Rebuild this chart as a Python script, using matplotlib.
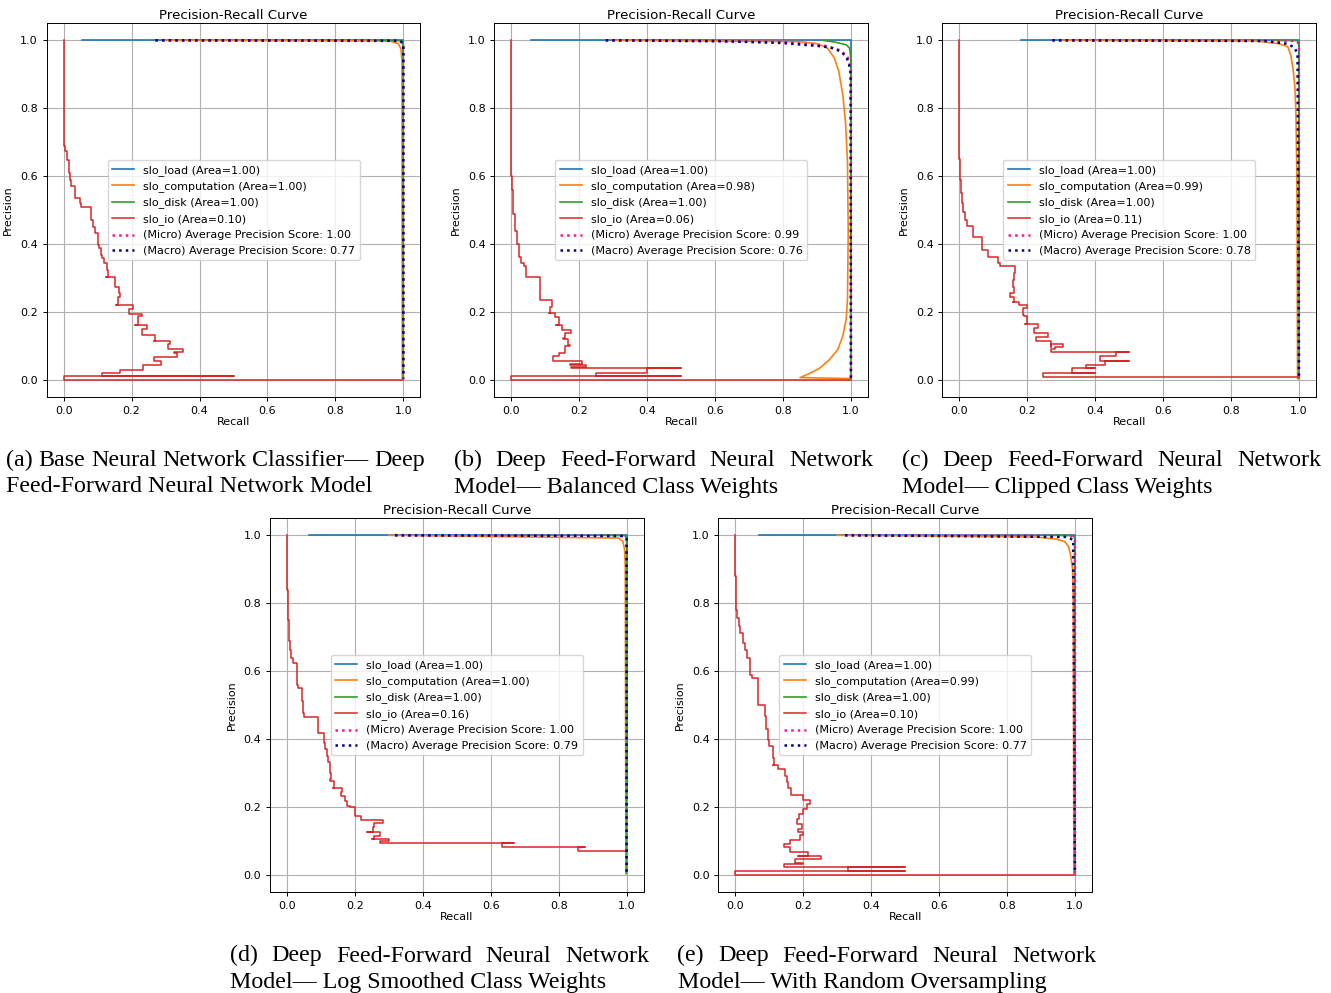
import matplotlib
matplotlib.use('Agg')
import matplotlib.pyplot as plt

W, H = 1331, 993

# slo_io curves (recall, precision), traced as steps
a_io_recall = [0.0, 0.004, 0.01, 0.016, 0.02, 0.022, 0.032, 0.047, 0.05, 0.081, 0.086, 0.091, 0.1, 0.104,
               0.111, 0.113, 0.12, 0.128, 0.13, 0.126, 0.152, 0.152, 0.162, 0.167, 0.159, 0.154, 0.204, 0.192,
               0.194, 0.23, 0.218, 0.211, 0.245, 0.23, 0.237, 0.27, 0.265, 0.312, 0.306, 0.314, 0.35, 0.324,
               0.335, 0.265, 0.265, 0.288, 0.265, 0.233, 0.202, 0.167, 0.113, 0.113, 0.5, 0.0, 0.0, 1.0]
a_io_precision = [1.0, 0.69, 0.675, 0.648, 0.61, 0.59, 0.57, 0.535, 0.52, 0.51, 0.47, 0.452, 0.432, 0.398,
                  0.39, 0.368, 0.36, 0.344, 0.325, 0.304, 0.303, 0.28, 0.275, 0.257, 0.245, 0.221, 0.221, 0.21,
                  0.196, 0.196, 0.188, 0.162, 0.162, 0.152, 0.133, 0.133, 0.116, 0.116, 0.108, 0.093, 0.093,
                  0.083, 0.08, 0.069, 0.057, 0.057, 0.044, 0.044, 0.031, 0.031, 0.022, 0.012, 0.012, 0.012,
                  0.0, 0.0]

b_io_recall = [0.0, 0.002, 0.006, 0.011, 0.016, 0.023, 0.03, 0.037, 0.043, 0.05, 0.084, 0.089, 0.119, 0.114,
               0.112, 0.129, 0.129, 0.14, 0.133, 0.148, 0.162, 0.175, 0.158, 0.153, 0.168, 0.174, 0.158, 0.14,
               0.123, 0.123, 0.174, 0.209, 0.174, 0.221, 0.177, 0.177, 0.5, 0.4, 0.4, 0.25, 0.25, 0.5, 0.0,
               0.0, 1.0]
b_io_precision = [1.0, 0.6, 0.56, 0.49, 0.44, 0.40, 0.364, 0.345, 0.335, 0.305, 0.305, 0.236, 0.236, 0.215,
                  0.197, 0.197, 0.187, 0.187, 0.163, 0.163, 0.148, 0.148, 0.138, 0.124, 0.12, 0.104, 0.1, 0.08,
                  0.07, 0.06, 0.058, 0.058, 0.048, 0.046, 0.04, 0.035, 0.035, 0.035, 0.022, 0.022, 0.012,
                  0.012, 0.012, 0.0, 0.0]

c_io_recall = [0.0, 0.002, 0.004, 0.007, 0.012, 0.017, 0.023, 0.039, 0.039, 0.066, 0.075, 0.085, 0.085,
               0.115, 0.12, 0.124, 0.164, 0.16, 0.157, 0.161, 0.15, 0.16, 0.159, 0.176, 0.198, 0.188, 0.19,
               0.2, 0.194, 0.232, 0.219, 0.222, 0.26, 0.227, 0.227, 0.271, 0.271, 0.306, 0.283, 0.27, 0.27,
               0.5, 0.462, 0.462, 0.415, 0.415, 0.5, 0.428, 0.428, 0.374, 0.374, 0.4, 0.333, 0.333, 0.4,
               0.247, 0.247, 1.0]
c_io_precision = [1.0, 0.65, 0.59, 0.55, 0.52, 0.496, 0.47, 0.454, 0.421, 0.421, 0.383, 0.383, 0.362,
                  0.362, 0.345, 0.337, 0.337, 0.315, 0.295, 0.275, 0.256, 0.245, 0.231, 0.231, 0.222, 0.212,
                  0.192, 0.188, 0.166, 0.166, 0.153, 0.138, 0.14, 0.128, 0.117, 0.117, 0.099, 0.106, 0.099,
                  0.091, 0.082, 0.082, 0.082, 0.07, 0.07, 0.058, 0.058, 0.058, 0.045, 0.045, 0.035, 0.035,
                  0.035, 0.0225, 0.0225, 0.0225, 0.011, 0.011]

d_io_recall = [0.0, 0.002, 0.005, 0.008, 0.012, 0.019, 0.029, 0.031, 0.044, 0.047, 0.051, 0.061, 0.09,
               0.094, 0.11, 0.113, 0.117, 0.122, 0.127, 0.129, 0.126, 0.139, 0.135, 0.162, 0.16, 0.172,
               0.178, 0.185, 0.201, 0.2, 0.218, 0.218, 0.284, 0.257, 0.252, 0.237, 0.275, 0.257, 0.25, 0.3,
               0.275, 0.275, 0.669, 0.634, 0.634, 0.876, 0.856, 0.856, 1.0]
d_io_precision = [1.0, 0.84, 0.75, 0.69, 0.664, 0.64, 0.625, 0.559, 0.55, 0.513, 0.478, 0.467, 0.467,
                  0.42, 0.42, 0.39, 0.371, 0.35, 0.332, 0.3, 0.283, 0.278, 0.258, 0.258, 0.245, 0.234,
                  0.22, 0.204, 0.2, 0.18, 0.175, 0.163, 0.163, 0.155, 0.141, 0.128, 0.128, 0.117, 0.107,
                  0.107, 0.102, 0.094, 0.094, 0.094, 0.082, 0.082, 0.082, 0.071, 0.071]

e_io_recall = [0.0, 0.003, 0.005, 0.01, 0.015, 0.022, 0.03, 0.034, 0.042, 0.044, 0.049, 0.066, 0.068,
               0.088, 0.091, 0.095, 0.098, 0.11, 0.113, 0.11, 0.127, 0.147, 0.152, 0.154, 0.163, 0.171, 0.2,
               0.22, 0.21, 0.2, 0.189, 0.181, 0.196, 0.186, 0.2, 0.19, 0.174, 0.16, 0.142, 0.142, 0.162,
               0.186, 0.215, 0.186, 0.251, 0.21, 0.176, 0.176, 0.2, 0.142, 0.142, 0.5, 0.333, 0.333, 0.5,
               0.0, 0.0, 1.0]
e_io_precision = [1.0, 0.88, 0.78, 0.757, 0.733, 0.713, 0.684, 0.664, 0.64, 0.6, 0.59, 0.581, 0.5, 0.5,
                  0.469, 0.43, 0.398, 0.38, 0.346, 0.325, 0.325, 0.312, 0.293, 0.273, 0.258, 0.236, 0.236,
                  0.221, 0.21, 0.195, 0.18, 0.165, 0.151, 0.136, 0.128, 0.118, 0.105, 0.105, 0.092, 0.082,
                  0.082, 0.069, 0.069, 0.058, 0.058, 0.048, 0.048, 0.038, 0.036, 0.033, 0.024, 0.024, 0.024,
                  0.014, 0.014, 0.014, 0.0, 0.0]

# slo_computation curves
a_comp_recall = [0.3, 0.96, 0.985, 0.993, 0.996, 0.997]
a_comp_precision = [1.0, 0.998, 0.99, 0.975, 0.94, 0.005]
b_comp_recall = [0.3, 0.85, 0.90, 0.93, 0.95, 0.964, 0.976, 0.984, 0.99, 0.992, 0.99, 0.986, 0.976, 0.961,
                 0.936, 0.907, 0.878, 0.850, 1.0]
b_comp_precision = [1.0, 0.996, 0.99, 0.978, 0.95, 0.91, 0.84, 0.76, 0.64, 0.44, 0.24, 0.18, 0.13, 0.09,
                    0.06, 0.035, 0.02, 0.008, 0.005]
c_comp_recall = [0.3, 0.874, 0.942, 0.967, 0.976, 0.983, 0.988, 0.991, 0.994, 0.996]
c_comp_precision = [1.0, 0.998, 0.99, 0.981, 0.957, 0.913, 0.864, 0.795, 0.6, 0.005]
d_comp_recall = [0.3, 0.977, 0.989, 0.994, 0.996, 0.998]
d_comp_precision = [1.0, 0.992, 0.982, 0.958, 0.909, 0.005]
e_comp_recall = [0.3, 0.886, 0.944, 0.969, 0.981, 0.988, 0.993, 0.995, 0.997]
e_comp_precision = [1.0, 0.995, 0.989, 0.982, 0.968, 0.938, 0.899, 0.81, 0.005]

# slo_disk curves
disk_recall = [0.92, 0.995, 1.0, 1.0]
disk_precision = [1.0, 0.999, 0.99, 0.005]
b_disk_recall = [0.917, 0.956, 0.986, 0.996, 0.999, 1.0, 1.0]
b_disk_precision = [1.0, 0.994, 0.987, 0.977, 0.952, 0.9, 0.005]

# slo_load starts where recall first reaches this value
load_start = [0.055, 0.058, 0.181, 0.064, 0.071]

# macro / micro averaged curves
a_macro_recall = [0.27, 0.99, 1.0, 1.0]
a_macro_precision = [1.0, 0.999, 0.99, 0.005]
b_macro_recall = [0.278, 0.6, 0.8, 0.917, 0.946, 0.971, 0.986, 0.994, 0.999, 1.0]
b_macro_precision = [1.0, 0.998, 0.992, 0.982, 0.977, 0.967, 0.952, 0.933, 0.903, 0.005]
c_macro_recall = [0.274, 0.9, 0.962, 0.986, 0.996, 1.0]
c_macro_precision = [1.0, 0.998, 0.99, 0.98, 0.96, 0.005]
d_macro_recall = [0.318, 0.99, 1.0, 1.0]
d_macro_precision = [1.0, 0.998, 0.99, 0.005]
e_macro_recall = [0.323, 0.974, 0.995, 1.0]
e_macro_precision = [1.0, 0.995, 0.987, 0.005]

micro_recall = [0.99, 1.0, 1.0]
micro_precision = [0.998, 0.99, 0.005]
b_micro_recall = [0.278, 0.8, 0.92, 0.97, 0.99, 1.0, 1.0]
b_micro_precision = [1.0, 0.995, 0.985, 0.97, 0.95, 0.92, 0.005]

# areas shown in the legends
area_load = [1.00, 1.00, 1.00, 1.00, 1.00]
area_comp = [1.00, 0.98, 0.99, 1.00, 0.99]
area_disk = [1.00, 1.00, 1.00, 1.00, 1.00]
area_io = [0.10, 0.06, 0.11, 0.16, 0.10]
micro_score = [1.00, 0.99, 1.00, 1.00, 1.00]
macro_score = [0.77, 0.76, 0.78, 0.79, 0.77]

captions = [
    ("(a) Base Neural Network Classifier\u2014 Deep", "Feed-Forward Neural Network Model"),
    ("(b) Deep Feed-Forward Neural Network", "Model\u2014 Balanced Class Weights"),
    ("(c) Deep Feed-Forward Neural Network", "Model\u2014 Clipped Class Weights"),
    ("(d) Deep Feed-Forward Neural Network", "Model\u2014 Log Smoothed Class Weights"),
    ("(e) Deep Feed-Forward Neural Network", "Model\u2014 With Random Oversampling"),
]

io_curves = [(a_io_recall, a_io_precision), (b_io_recall, b_io_precision), (c_io_recall, c_io_precision),
             (d_io_recall, d_io_precision), (e_io_recall, e_io_precision)]
comp_curves = [(a_comp_recall, a_comp_precision), (b_comp_recall, b_comp_precision),
               (c_comp_recall, c_comp_precision), (d_comp_recall, d_comp_precision),
               (e_comp_recall, e_comp_precision)]
disk_curves = [(disk_recall, disk_precision), (b_disk_recall, b_disk_precision), (disk_recall, disk_precision),
               (disk_recall, disk_precision), (disk_recall, disk_precision)]
macro_curves = [(a_macro_recall, a_macro_precision), (b_macro_recall, b_macro_precision),
                (c_macro_recall, c_macro_precision), (d_macro_recall, d_macro_precision),
                (e_macro_recall, e_macro_precision)]

# axes boxes in pixels: left, top
boxes = [(46.7, 23.3), (494.3, 23.3), (942.3, 23.3), (270.0, 518.3), (718.3, 518.3)]
AX_W, AX_H = 373.6, 374.0
# caption left edge and first baseline in pixels
cap_pos = [(6, 466), (454, 466), (902, 466), (230, 961.5), (677.5, 961.5)]
CAP_W = 419
CAP_SIZE = 17.3
SERIF = 'Liberation Serif'

plt.rcParams['font.size'] = 8
plt.rcParams['axes.linewidth'] = 0.7
plt.rcParams['xtick.major.width'] = 0.7
plt.rcParams['ytick.major.width'] = 0.7
plt.rcParams['xtick.major.size'] = 2.8
plt.rcParams['ytick.major.size'] = 2.8

fig = plt.figure(figsize=(W / 100, H / 100), dpi=100)

for i in range(5):
    left, top = boxes[i]
    ax = fig.add_axes([left / W, 1 - (top + AX_H) / H, AX_W / W, AX_H / H])

    ax.plot([load_start[i], 1.0, 1.0], [1.0, 1.0, 0.25], color='tab:blue', lw=1.2,
            label='slo_load (Area={:.2f})'.format(area_load[i]))
    ax.plot(comp_curves[i][0], comp_curves[i][1], color='tab:orange', lw=1.2,
            label='slo_computation (Area={:.2f})'.format(area_comp[i]))
    ax.plot(disk_curves[i][0], disk_curves[i][1], color='tab:green', lw=1.2,
            label='slo_disk (Area={:.2f})'.format(area_disk[i]))
    ax.plot(io_curves[i][0], io_curves[i][1], color='tab:red', lw=1.1, drawstyle='steps-pre',
            label='slo_io (Area={:.2f})'.format(area_io[i]))

    if i == 1:
        mr, mp = b_micro_recall, b_micro_precision
    else:
        mr = [macro_curves[i][0][0]] + micro_recall
        mp = [1.0] + micro_precision
    ax.plot(mr, mp, color='deeppink', linestyle=':', lw=1.8,
            label='(Micro) Average Precision Score: {:.2f}'.format(micro_score[i]))
    ax.plot(macro_curves[i][0], macro_curves[i][1], color='navy', linestyle=':', lw=1.8,
            label='(Macro) Average Precision Score: {:.2f}'.format(macro_score[i]))

    ax.set_xlim(-0.05, 1.05)
    ax.set_ylim(-0.05, 1.05)
    ax.set_xticks([0.0, 0.2, 0.4, 0.6, 0.8, 1.0])
    ax.set_yticks([0.0, 0.2, 0.4, 0.6, 0.8, 1.0])
    ax.set_xlabel('Recall', labelpad=1)
    ax.set_ylabel('Precision', labelpad=5)
    ax.set_title('Precision-Recall Curve', pad=3)
    ax.grid(True)
    ax.legend(loc='center', fontsize=8)

renderer = fig.canvas.get_renderer()


def justified_line(x0, y, text):
    words = text.split()
    items = [fig.text(0, 0, w, fontsize=CAP_SIZE, family=SERIF, va='baseline') for w in words]
    widths = [t.get_window_extent(renderer).width for t in items]
    gap = (CAP_W - sum(widths)) / (len(words) - 1)
    x = x0
    for t, w in zip(items, widths):
        t.set_position((x / W, 1 - y / H))
        x += w + gap


for i in range(5):
    x0, y0 = cap_pos[i]
    justified_line(x0, y0, captions[i][0])
    fig.text(x0 / W, 1 - (y0 + 26.5) / H, captions[i][1], fontsize=CAP_SIZE, family=SERIF, va='baseline')

fig.savefig('out.png', dpi=100)
